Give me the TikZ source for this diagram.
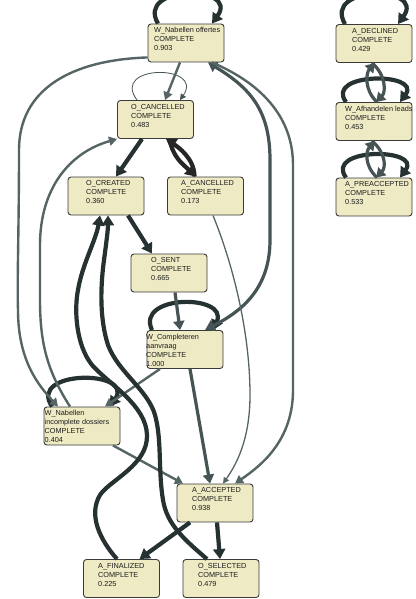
\documentclass[tikz,border=0pt]{standalone}
\usepackage{fontspec}
\setmainfont{Liberation Sans}
\usetikzlibrary{arrows.meta}
\definecolor{nfill}{HTML}{EEEAC4}
\definecolor{nline}{HTML}{3A3A3A}
\definecolor{edark}{HTML}{263131}
\definecolor{emid}{HTML}{465455}
\definecolor{elight}{HTML}{566465}
\definecolor{ntext}{HTML}{1C1C1C}
\begin{document}
\begin{tikzpicture}[x=1pt,y=-1pt,
  box/.style={draw=nline,line width=0.9pt,fill=nfill,rounded corners=3pt,minimum width=76pt,minimum height=38pt,inner sep=0pt},
  lbl/.style={anchor=north west,inner sep=0pt,align=left,text=ntext,font=\fontsize{7.3}{9}\selectfont},
  dk/.style={draw=edark,line width=4.2pt,-{Triangle[length=10pt,width=12pt]}},
  md/.style={draw=emid,line width=3.2pt,-{Triangle[length=9pt,width=11pt]}},
  lt/.style={draw=elight,line width=2.4pt,-{Triangle[length=8pt,width=9pt]}},
  th/.style={draw=elight,line width=1.3pt,-{Triangle[length=6pt,width=6pt]}},
  hair/.style={draw=emid,line width=0.8pt,-{Triangle[length=6pt,width=6pt]}}]
\useasboundingbox (0,0) rectangle (415,599);
\clip (0,0) rectangle (415,599);
\fill[white] (0,0) rectangle (415,599);

% boxes
\node[box] (WNO) at (186,43) {};
\node[box] (OCA) at (155.5,119.5) {};
\node[box] (ADE) at (374,43.5) {};
\node[box] (WAL) at (374,121.5) {};
\node[box] (APR) at (374,197) {};
\node[box] (OCR) at (106,196) {};
\node[box] (ACA) at (205.5,196) {};
\node[box] (OSE) at (169,273) {};
\node[box] (WCA) at (185,349.5) {};
\node[box] (WNI) at (82,426) {};
\node[box] (AAC) at (215,503) {};
\node[box] (AFI) at (121.5,578.5) {};
\node[box] (OSL) at (221,578.5) {};

% self loops
\draw[dk] ([xshift=-28pt]WNO.north) .. controls +(-23,-39) and +(28,-39) .. ([xshift=26pt]WNO.north);
\draw[dk] ([xshift=-29pt]ADE.north) .. controls +(-23,-39) and +(28,-39) .. ([xshift=24pt]ADE.north);
\draw[dk] ([xshift=-28pt]WAL.north) .. controls +(-22,-30) and +(22,-30) .. ([xshift=26pt]WAL.north);
\draw[dk] ([xshift=-28pt]APR.north) .. controls +(-22,-30) and +(22,-30) .. ([xshift=26pt]APR.north);
\draw[hair] ([xshift=-18.5pt]OCA.north) .. controls +(-27,-36) and +(25,-36) .. ([xshift=24.5pt]OCA.north);
\draw[dk] ([xshift=-33pt]WCA.north) .. controls +(-17,-36) and +(16,-36) .. ([xshift=28pt]WCA.north);
\draw[dk] ([xshift=-30pt]WNI.north) .. controls +(-25,-37) and +(25,-37) .. ([xshift=28pt]WNI.north);

% right column
\draw[md] ([xshift=3pt]WAL.north) .. controls +(-13,-12) and +(-9,10) .. ([xshift=1pt]ADE.south);
\draw[md] ([xshift=-2pt]ADE.south) .. controls +(14,12) and +(10,-10) .. ([xshift=2pt]WAL.north);
\draw[md] ([xshift=3pt]APR.north) .. controls +(-13,-12) and +(-9,10) .. ([xshift=1pt]WAL.south);
\draw[md] ([xshift=-2pt]WAL.south) .. controls +(14,12) and +(10,-10) .. ([xshift=2pt]APR.north);

% main graph
\draw[lt] ([xshift=-6pt]WNO.south) -- ([xshift=9.5pt]OCA.north);
\draw[dk,draw=black!85] ([xshift=14.5pt]OCA.south) .. controls +(2,18) and +(-12,-12) .. ([xshift=-10pt]ACA.north);
\draw[dk,draw=black!85] ([xshift=-11pt]ACA.north) .. controls +(0,-18) and +(12,8) .. ([xshift=10.5pt]OCA.south);
\draw[dk] ([xshift=-13.5pt]OCA.south) -- ([xshift=10pt]OCR.north);
\draw[dk] ([xshift=22pt]OCR.south) -- ([xshift=-17pt]OSE.north);
\draw[md] ([xshift=6pt]OSE.south) -- ([xshift=-5pt]WCA.north);

% long right curves
\draw[md,{Triangle[length=9pt,width=11pt]}-{Triangle[length=10pt,width=12pt]}] ([xshift=22pt]WNO.south) .. controls (250,88) and (270,110) .. (270,160) -- (270,240) .. controls (270,290) and (240,312) .. ([xshift=20pt]WCA.north);
\draw[lt] ([xshift=26pt]WNO.south) .. controls (265,85) and (293,120) .. (293,165) -- (293,390) .. controls (293,440) and (262,465) .. ([xshift=20pt]AAC.north);
\draw[th] ([xshift=7.5pt]ACA.south) .. controls (232,262) and (250,330) .. (250,395) .. controls (250,440) and (236,465) .. ([xshift=8pt]AAC.north);

\draw[md] ([xshift=5pt]WCA.south) -- ([xshift=-5pt]AAC.north);
\draw[lt] ([xshift=-25pt]WCA.south) -- ([xshift=23pt]WNI.north);
\draw[lt] ([xshift=31pt]WNI.south) -- ([xshift=-32pt]AAC.north);

% long left curves
\draw[lt] ([yshift=5pt]WNO.south west) .. controls (70,60) and (19,90) .. (19,150) .. controls (19,230) and (17,280) .. (18,310) .. controls (18,360) and (38,385) .. ([xshift=-24pt]WNI.north);
\draw[lt] ([xshift=-12pt]WNI.north) .. controls (48,372) and (40,345) .. (40,300) -- (40,245) .. controls (40,190) and (68,153) .. (OCA.south west);

% dark curves to O_CREATED
\draw[dk] ([xshift=-4.5pt]AFI.north) .. controls (100,540) and (88,515) .. (100,495) .. controls (110,480) and (148,465) .. (147,435) .. controls (146,405) and (110,385) .. (92,365) .. controls (76,345) and (74,310) .. (78,290) .. controls (82,265) and (96,240) .. ([xshift=-6pt]OCR.south);
\draw[dk] ([xshift=-14pt]OSL.north) .. controls (185,540) and (167,525) .. (163,500) .. controls (158,470) and (162,440) .. (155,415) .. controls (148,390) and (118,372) .. (108,345) .. controls (100,320) and (100,290) .. (104,260) .. controls (106,245) and (108,230) .. ([xshift=2pt]OCR.south);

\draw[dk] ([xshift=-25pt]AAC.south) -- ([xshift=18pt]AFI.north);
\draw[dk] ([xshift=2pt]AAC.south) -- ([xshift=-1pt]OSL.north);

% labels
\node[lbl] (WNO-t) at (154,27.5) {W\_Nabellen offertes\\COMPLETE\\0.903};
\node[lbl] (OCA-t) at (131,104) {O\_CANCELLED\\COMPLETE\\0.483};
\node[lbl] (ADE-t) at (352,28) {A\_DECLINED\\COMPLETE\\0.429};
\node[lbl] (WAL-t) at (345,106) {W\_Afhandelen leads\\COMPLETE\\0.453};
\node[lbl] (APR-t) at (345,181.5) {A\_PREACCEPTED\\COMPLETE\\0.533};
\node[lbl] (OCR-t) at (86,180.5) {O\_CREATED\\COMPLETE\\0.360};
\node[lbl] (ACA-t) at (181,180.5) {A\_CANCELLED\\COMPLETE\\0.173};
\node[lbl] (OSE-t) at (151,257.5) {O\_SENT\\COMPLETE\\0.665};
\node[lbl] (WCA-t) at (146,334) {W\_Completeren\\aanvraag\\COMPLETE\\1.000};
\node[lbl] (WNI-t) at (44.5,410.5) {W\_Nabellen\\incomplete dossiers\\COMPLETE\\0.404};
\node[lbl] (AAC-t) at (192,487.5) {A\_ACCEPTED\\COMPLETE\\0.938};
\node[lbl] (AFI-t) at (98,563) {A\_FINALIZED\\COMPLETE\\0.225};
\node[lbl] (OSL-t) at (198,563) {O\_SELECTED\\COMPLETE\\0.479};
\end{tikzpicture}
\end{document}
